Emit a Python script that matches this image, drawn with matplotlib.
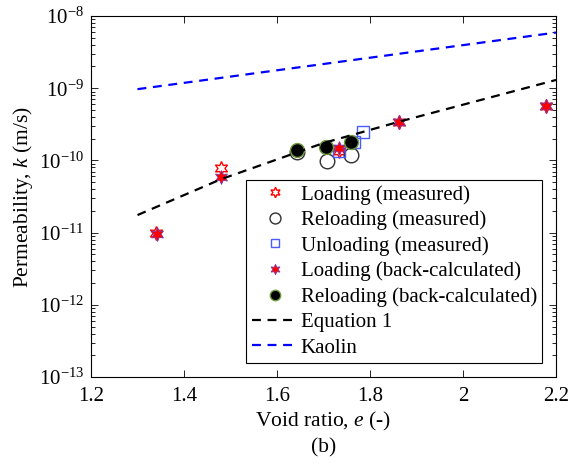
import numpy as np
import matplotlib.pyplot as plt
from matplotlib.ticker import LogLocator, NullFormatter, FixedLocator

plt.rcParams['font.family'] = ['Liberation Serif', 'DejaVu Serif']
plt.rcParams['mathtext.fontset'] = 'custom'
plt.rcParams['mathtext.rm'] = 'Liberation Serif'
plt.rcParams['mathtext.it'] = 'Liberation Serif:italic'
plt.rcParams['axes.unicode_minus'] = False

# measured data
load_meas_e = [1.34, 1.479, 1.733, 1.862, 2.178]
load_meas_k = [1.0e-11, 7.8e-11, 1.35e-10, 3.4e-10, 5.7e-10]
reload_meas_e = [1.644, 1.707, 1.759]
reload_meas_k = [1.3e-10, 9.8e-11, 1.19e-10]
unload_meas_e = [1.733, 1.765, 1.785]
unload_meas_k = [1.35e-10, 1.8e-10, 2.5e-10]

# back-calculated data
load_back_e = [1.341, 1.479, 1.733, 1.862, 2.178]
load_back_k = [9.5e-12, 5.8e-11, 1.48e-10, 3.43e-10, 5.7e-10]
reload_back_e = [1.644, 1.705, 1.76]
reload_back_k = [1.39e-10, 1.55e-10, 1.82e-10]

# curves
eq1_e = [1.3, 1.48, 1.7, 1.865, 2.2]
eq1_k = [1.75e-11, 5.5e-11, 1.74e-10, 3.47e-10, 1.3e-9]
kaolin_e = [1.3, 2.2]
kaolin_k = [9.7e-10, 5.9e-9]

fs = 15

fig = plt.figure(figsize=(5.73, 4.71), dpi=100)
ax = fig.add_axes([91 / 573, 1 - 377 / 471, 465 / 573, 361 / 471])

star = (6, 1, 0)
ax.plot(load_meas_e, load_meas_k, ls='none', marker=star, ms=10, mfc='white',
        mec='red', mew=1, label='Loading (measured)')
ax.plot(reload_meas_e, reload_meas_k, ls='none', marker='o', ms=10.5, mfc='none',
        mec='#303030', mew=1, label='Reloading (measured)')
ax.plot(unload_meas_e, unload_meas_k, ls='none', marker='s', ms=8, mfc='none',
        mec='#4a5cff', mew=1, label='Unloading (measured)')
ax.plot(load_back_e, load_back_k, ls='none', marker=star, ms=10, mfc='red',
        mec='#7a3aa8', mew=0.6, label='Loading (back-calculated)')
ax.plot(reload_back_e, reload_back_k, ls='none', marker='o', ms=10, mfc='black',
        mec='#6f9a3c', mew=1, label='Reloading (back-calculated)')
ax.plot(eq1_e, eq1_k, ls=(0, (4, 3)), color='black', lw=1.6, label='Equation 1')
ax.plot(kaolin_e, kaolin_k, ls=(0, (4, 3)), color='blue', lw=1.6, label='Kaolin')

ax.set_yscale('log')
ax.set_xlim(1.2, 2.2)
ax.set_ylim(1e-13, 1e-8)
ax.xaxis.set_major_locator(FixedLocator([1.2, 1.4, 1.6, 1.8, 2.0, 2.2]))
ax.set_xticklabels(['1.2', '1.4', '1.6', '1.8', '2', '2.2'])
ax.yaxis.set_major_locator(LogLocator(base=10, numticks=10))
ax.yaxis.set_minor_locator(LogLocator(base=10, subs=np.arange(2, 10), numticks=10))
ax.yaxis.set_minor_formatter(NullFormatter())
ax.tick_params(which='both', direction='in', top=True, right=True, labelsize=fs)
ax.tick_params(which='major', length=5, width=0.6)
ax.tick_params(which='minor', length=3, width=0.6)
ax.tick_params(axis='x', pad=7)
ax.tick_params(axis='y', pad=5)
for s in ax.spines.values():
    s.set_linewidth(0.8)

ax.set_xlabel('Void ratio, $\\it{e}$ (-)', fontsize=fs + 0.5, labelpad=3)
ax.set_ylabel('Permeability, $\\it{k}$ (m/s)', fontsize=fs + 0.5, labelpad=3)
fig.text(0.5 * (91 + 556) / 573, 1 - 448 / 471, '(b)', ha='center', va='center',
         fontsize=fs + 0.5)

leg = ax.legend(loc='lower right', bbox_to_anchor=(0.97, 0.039), fontsize=fs,
                frameon=True, fancybox=False, edgecolor='black', framealpha=1,
                borderpad=0.25, labelspacing=0.28, handlelength=2.2, handletextpad=0.15,
                borderaxespad=0, markerscale=0.75)
leg.get_frame().set_linewidth(0.8)

fig.savefig('out.png', dpi=100)
